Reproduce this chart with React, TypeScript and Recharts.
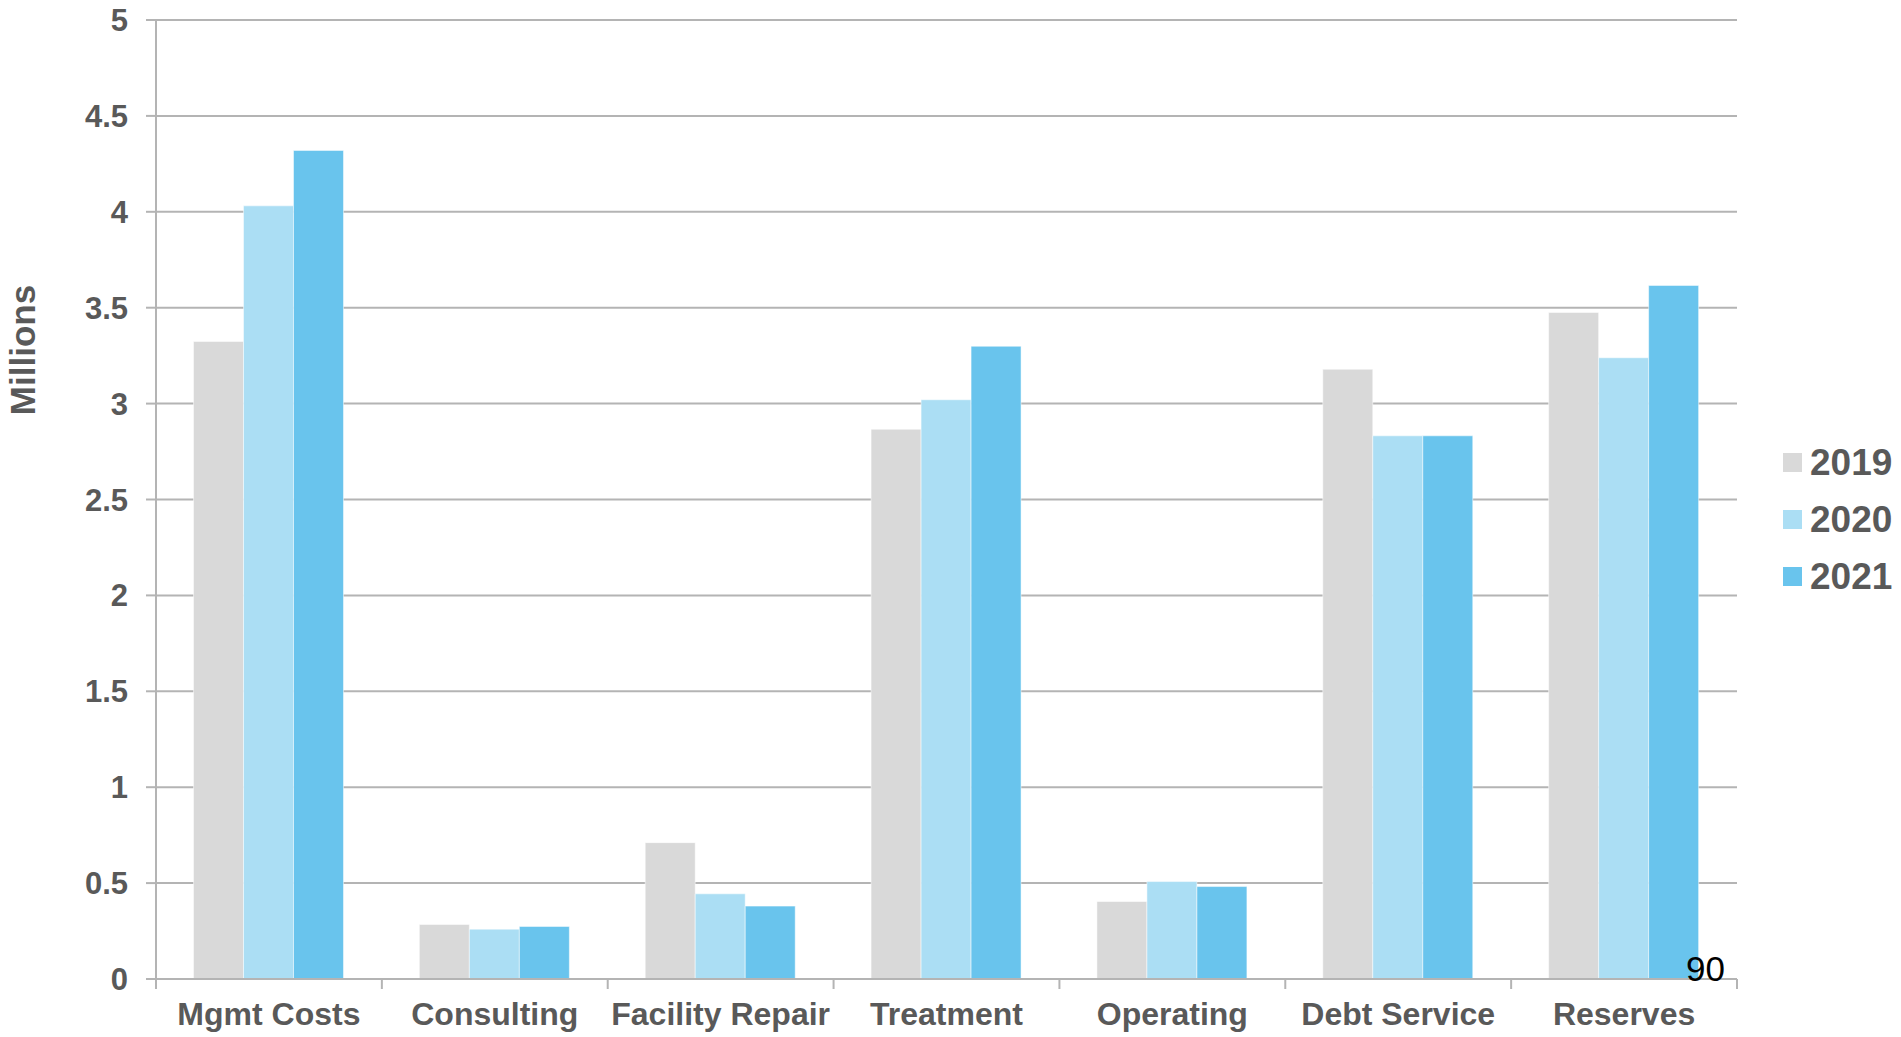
import React from 'react';
import { BarChart, Bar, XAxis, YAxis, CartesianGrid, Legend } from 'recharts';

const categories = [
  'Mgmt Costs',
  'Consulting',
  'Facility Repair',
  'Treatment',
  'Operating',
  'Debt Service',
  'Reserves',
];
const values2019 = [3.324, 0.284, 0.711, 2.866, 0.404, 3.179, 3.475];
const values2020 = [4.031, 0.26, 0.444, 3.02, 0.508, 2.832, 3.239];
const values2021 = [4.32, 0.274, 0.38, 3.299, 0.482, 2.832, 3.616];
const yTicks = [0, 0.5, 1, 1.5, 2, 2.5, 3, 3.5, 4, 4.5, 5];

const series = [
  { key: 'y2019', name: '2019', color: '#D9D9D9' },
  { key: 'y2020', name: '2020', color: '#ABDEF4' },
  { key: 'y2021', name: '2021', color: '#69C4ED' },
];

const data = categories.map((name, i) => ({
  name,
  y2019: values2019[i],
  y2020: values2020[i],
  y2021: values2021[i],
}));

const W = 1901;
const H = 1037;
const margin = { top: 20, right: 164, bottom: 0, left: 0 };
const yAxisWidth = 156;
const FONT = '"Liberation Sans", Arial, sans-serif';
const TEXT = '#595959';
const LINE = '#B4B4B4';

// width of one category band, used to put the x ticks on the band edges
const band = (W - margin.left - margin.right - yAxisWidth) / categories.length;

const CategoryTick = (props: any) => {
  const { x, y, index } = props;
  const last = index === categories.length - 1;
  return (
    <g>
      <line x1={x - band / 2} x2={x - band / 2} y1={y} y2={y + 10} stroke={LINE} strokeWidth={2} />
      {last && <line x1={x + band / 2} x2={x + band / 2} y1={y} y2={y + 10} stroke={LINE} strokeWidth={2} />}
      <text x={x} y={y + 46} textAnchor="middle" fontSize={32} fontWeight="bold" fill={TEXT} fontFamily={FONT}>
        {props.payload.value}
      </text>
    </g>
  );
};

const LegendBox = () => (
  <div style={{ fontFamily: FONT }}>
    {series.map((s) => (
      <div key={s.key} style={{ display: 'flex', alignItems: 'center', height: 57 }}>
        <span style={{ width: 19, height: 19, background: s.color, display: 'inline-block', marginRight: 8 }} />
        <span style={{ fontSize: 37, fontWeight: 'bold', color: TEXT }}>{s.name}</span>
      </div>
    ))}
  </div>
);

export default function App() {
  return (
    <div style={{ position: 'absolute', left: 0, top: 0, width: W, height: H, background: '#fff' }}>
      <BarChart width={W} height={H} data={data} margin={margin} barGap={0} barCategoryGap="16.6%">
        <CartesianGrid vertical={false} stroke={LINE} strokeWidth={2} />
        <XAxis
          dataKey="name"
          interval={0}
          height={58}
          tickSize={0}
          tickMargin={0}
          tickLine={false}
          axisLine={{ stroke: LINE, strokeWidth: 2 }}
          tick={<CategoryTick />}
        />
        <YAxis
          width={yAxisWidth}
          domain={[0, 5]}
          ticks={yTicks}
          interval={0}
          tickSize={10}
          tickMargin={18}
          tickLine={{ stroke: LINE, strokeWidth: 2 }}
          axisLine={{ stroke: LINE, strokeWidth: 2 }}
          tick={{ fontSize: 31, fontWeight: 'bold', fill: TEXT, fontFamily: FONT }}
          label={{
            content: () => (
              <text
                x={35}
                y={350}
                transform="rotate(-90 35 350)"
                textAnchor="middle"
                fontSize={35}
                fontWeight="bold"
                fill={TEXT}
                fontFamily={FONT}
              >
                Millions
              </text>
            ),
          }}
        />
        <Legend
          layout="vertical"
          align="center"
          verticalAlign="middle"
          content={<LegendBox />}
          wrapperStyle={{ left: 1783, top: 434, width: 118 }}
        />
        {series.map((s) => (
          <Bar
            key={s.key}
            dataKey={s.key}
            name={s.name}
            fill={s.color}
            stroke="#ffffff"
            strokeOpacity={0.5}
            strokeWidth={1}
            isAnimationActive={false}
          />
        ))}
      </BarChart>
      <div
        style={{
          position: 'absolute',
          left: 1686,
          top: 949,
          fontFamily: FONT,
          fontSize: 35,
          color: '#000',
          lineHeight: '40px',
        }}
      >
        90
      </div>
    </div>
  );
}
